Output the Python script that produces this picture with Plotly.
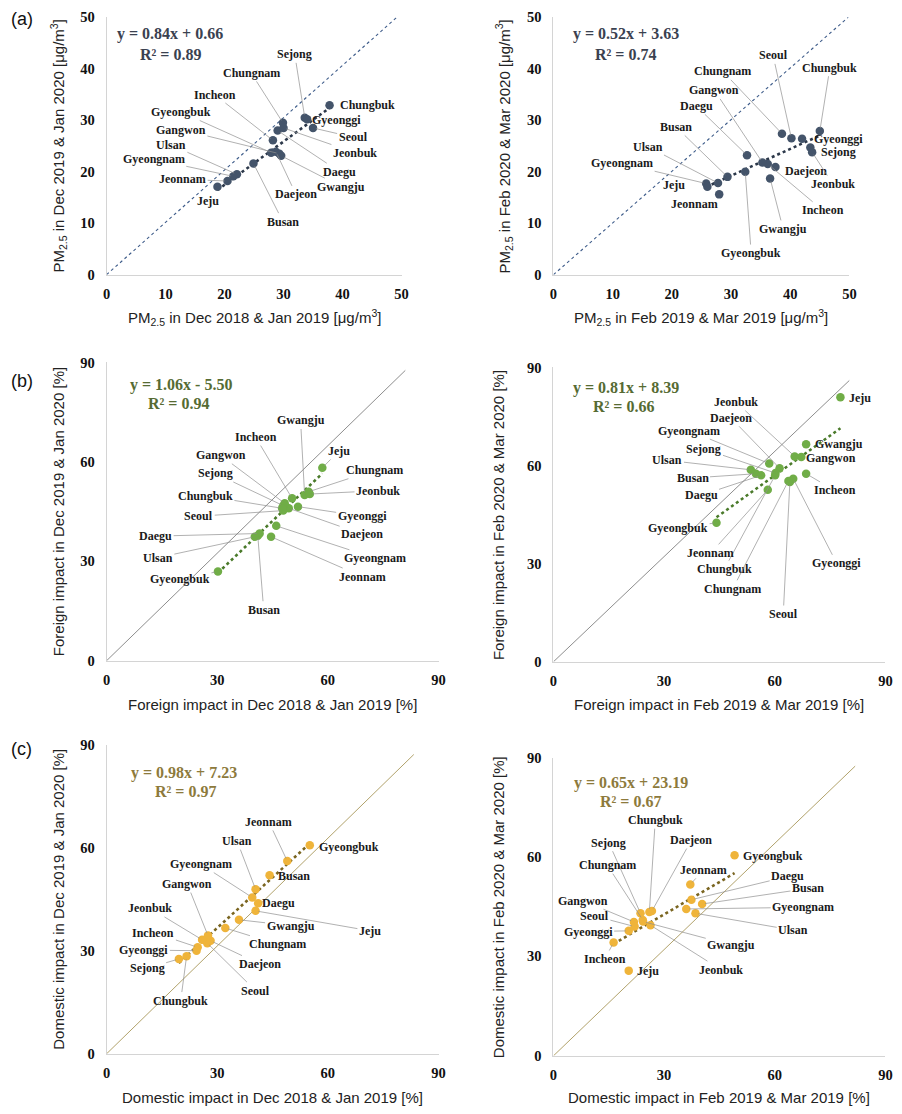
import plotly.graph_objects as go

W, H = 902, 1114

regions = ["Seoul", "Busan", "Daegu", "Incheon", "Gwangju", "Daejeon", "Ulsan", "Sejong",
           "Gyeonggi", "Gangwon", "Chungbuk", "Chungnam", "Jeonbuk", "Jeonnam",
           "Gyeongbuk", "Gyeongnam", "Jeju"]

# ---------------- data ----------------
# (a) PM2.5 [ug/m3]
pm_dj_prev = [35.0, 24.9, 29.0, 28.2, 29.6, 28.7, 22.1, 33.6, 34.0, 29.3, 37.8, 29.9, 30.0, 20.5, 27.9, 21.5, 18.8]
pm_dj_curr = [28.5, 21.6, 28.0, 26.1, 23.1, 23.9, 19.5, 30.5, 30.2, 23.5, 32.9, 29.5, 28.5, 18.2, 23.7, 19.1, 17.1]
pm_fm_prev = [40.2, 29.4, 32.7, 36.2, 36.6, 37.5, 27.8, 43.4, 42.0, 35.3, 45.0, 38.6, 43.7, 28.0, 32.4, 25.8, 26.0]
pm_fm_curr = [26.5, 19.0, 23.2, 21.5, 18.7, 20.9, 17.8, 24.7, 26.4, 21.8, 27.9, 27.4, 23.8, 15.6, 20.0, 17.7, 17.1]
# (b) Foreign impact [%]
fo_dj_prev = [47.9, 41.0, 41.5, 50.3, 53.7, 49.4, 40.2, 47.9, 51.9, 48.3, 47.6, 54.8, 55.1, 44.6, 30.2, 46.0, 58.5]
fo_dj_curr = [45.3, 37.7, 38.4, 49.0, 50.0, 46.0, 37.4, 46.8, 46.5, 47.5, 46.0, 51.0, 50.3, 37.4, 26.9, 40.7, 58.2]
fo_fm_prev = [64.1, 54.9, 56.3, 68.5, 68.5, 61.3, 53.5, 60.2, 65.0, 67.2, 60.1, 63.7, 65.4, 58.1, 44.2, 58.5, 77.8]
fo_fm_curr = [55.0, 57.5, 57.0, 57.5, 66.5, 59.2, 58.7, 57.7, 56.0, 62.6, 57.0, 55.3, 62.8, 52.6, 42.5, 60.6, 80.9]
# (c) Domestic impact [%]
do_dj_prev = [27.3, 44.2, 41.1, 24.7, 35.9, 28.2, 40.4, 19.6, 24.4, 27.5, 21.7, 32.2, 25.9, 49.0, 55.1, 39.5, 40.4]
do_dj_curr = [32.2, 52.0, 43.8, 31.0, 39.0, 32.9, 47.9, 27.6, 30.0, 34.4, 28.4, 36.6, 33.2, 56.1, 60.7, 45.5, 41.6]
do_fm_prev = [22.0, 40.3, 37.4, 16.3, 24.3, 26.7, 38.5, 23.6, 20.4, 21.8, 26.0, 24.2, 26.3, 37.1, 49.1, 36.0, 20.4]
do_fm_curr = [39.0, 45.8, 47.1, 34.2, 40.5, 43.7, 43.0, 43.0, 37.7, 40.4, 43.4, 41.0, 39.4, 51.7, 60.5, 44.3, 25.7]

# regression results printed on each panel
fit_slope = [0.84, 0.52, 1.06, 0.81, 0.98, 0.65]
fit_intercept = [0.66, 3.63, -5.50, 8.39, 7.23, 23.19]
fit_r2 = [0.89, 0.74, 0.94, 0.66, 0.97, 0.67]

ticks_pm = [0, 10, 20, 30, 40, 50]
ticks_pct = [0, 30, 60, 90]

# ---------------- label placement (layout) ----------------
lab_a1 = [(41.8, 26.7), (29.9, 10.3), (39.5, 20.0), (18.3, 35.0), (39.8, 17.1), (32.1, 15.6), (10.9, 25.2),
          (31.9, 42.8), (38.9, 30.0), (12.6, 28.2), (44.2, 32.9), (24.5, 39.2), (42.1, 23.7), (12.9, 18.5),
          (12.6, 31.6), (8.0, 22.4), (17.2, 14.4)]
lab_a2 = [(37.1, 42.6), (20.7, 28.7), (24.1, 32.8), (45.5, 12.5), (38.8, 8.9), (42.6, 20.2), (15.9, 24.9),
          (48.1, 23.9), (48.1, 26.3), (27.2, 35.8), (46.7, 40.2), (28.6, 39.5), (47.2, 17.6), (23.8, 13.7),
          (33.4, 4.2), (11.6, 21.6), (20.4, 17.4)]
lab_b1 = [(25.0, 43.6), (42.6, 15.4), (13.3, 37.6), (40.4, 67.5), (52.6, 72.5), (69.3, 38.2), (13.9, 31.1),
          (29.5, 56.5), (69.3, 43.6), (30.9, 62.0), (26.8, 49.8), (72.6, 57.5), (73.6, 51.3), (69.3, 25.4),
          (19.9, 24.7), (72.9, 30.9), (63.0, 63.3)]
lab_b2 = [(62.3, 14.6), (37.7, 56.2), (40.0, 50.9), (76.2, 52.4), (77.4, 66.5), (48.1, 74.6), (30.9, 61.6),
          (40.8, 65.1), (76.8, 30.1), (75.3, 62.4), (46.3, 28.3), (48.6, 22.3), (49.5, 79.4), (42.7, 33.3),
          (33.8, 40.9), (36.8, 70.7), (83.0, 80.7)]
lab_c1 = [(40.4, 18.4), (50.8, 51.8), (46.7, 43.8), (12.7, 35.3), (49.9, 37.3), (41.6, 26.1), (35.4, 61.9),
          (11.0, 24.9), (10.1, 30.2), (21.9, 49.4), (20.1, 15.5), (46.3, 31.9), (11.9, 42.3), (44.0, 67.5),
          (65.7, 60.3), (25.5, 55.2), (71.4, 35.8)]
lab_c2 = [(11.1, 42.2), (69.0, 50.5), (63.5, 54.1), (13.9, 29.2), (48.2, 33.4), (37.4, 65.1), (65.0, 37.9),
          (15.0, 64.3), (9.4, 37.5), (8.0, 46.8), (27.6, 71.1), (14.6, 57.5), (45.4, 26.0), (40.7, 56.1),
          (59.5, 60.3), (67.7, 44.8), (25.6, 25.5)]

panels = [
    dict(px=(106, 401), py=(16, 274), rng=50, ticks=ticks_pm, xs=pm_dj_prev, ys=pm_dj_curr, lab=lab_a1,
         noline={"Chungbuk", "Gyeonggi", "Jeju"}, diag=(49.2, 50.0), eq=(10.8, 46.8), r2=(10.8, 42.8),
         pt="#44546a", trend="#2c384a", eqc="#3a4150", dcol="#3e5c8a", ddash="dot", dw=1.1,
         xt="PM<sub>2.5</sub> in Dec 2018 & Jan 2019 [μg/m<sup>3</sup>]",
         yt="PM<sub>2.5</sub> in Dec 2019 & Jan 2020 [μg/m<sup>3</sup>]", xty=317, ytx=58),
    dict(px=(553, 849), py=(16, 274), rng=50, ticks=ticks_pm, xs=pm_fm_prev, ys=pm_fm_curr, lab=lab_a2,
         noline={"Gyeonggi", "Sejong", "Daejeon", "Jeju", "Jeonnam"}, diag=(49.8, 50.0), eq=(12.2, 46.8),
         r2=(12.2, 42.8), pt="#44546a", trend="#2c384a", eqc="#3a4150", dcol="#3e5c8a", ddash="dot", dw=1.1,
         xt="PM<sub>2.5</sub> in Feb 2019 & Mar 2019 [μg/m<sup>3</sup>]",
         yt="PM<sub>2.5</sub> in Feb 2020 & Mar 2020 [μg/m<sup>3</sup>]", xty=317, ytx=504),
    dict(px=(106, 438), py=(362, 661), rng=90, ticks=ticks_pct, xs=fo_dj_prev, ys=fo_dj_curr, lab=lab_b1,
         noline=set(), diag=(81.0, 87.6), eq=(20.1, 83.1), r2=(19.6, 77.6),
         pt="#70ad47", trend="#4a7a2a", eqc="#566b33", dcol="#808080", ddash="solid", dw=0.9,
         xt="Foreign impact in Dec 2018 & Jan 2019 [%]", yt="Foreign impact in Dec 2019 & Jan 2020 [%]",
         xty=705, ytx=58),
    dict(px=(553, 885), py=(367, 662), rng=90, ticks=ticks_pct, xs=fo_fm_prev, ys=fo_fm_curr, lab=lab_b2,
         noline={"Jeju", "Gwangju", "Gangwon"}, diag=(80.2, 86.0), eq=(19.6, 83.8), r2=(19.1, 78.1),
         pt="#70ad47", trend="#4a7a2a", eqc="#566b33", dcol="#808080", ddash="solid", dw=0.9,
         xt="Foreign impact in Feb 2019 & Mar 2019 [%]", yt="Foreign impact in Feb 2020 & Mar 2020 [%]",
         xty=705, ytx=498),
    dict(px=(106, 438), py=(745, 1055), rng=90, ticks=ticks_pct, xs=do_dj_prev, ys=do_dj_curr, lab=lab_c1,
         noline={"Busan", "Daegu", "Gyeongbuk"}, diag=(83.3, 87.1), eq=(20.9, 81.8), r2=(21.4, 76.3),
         pt="#efb43a", trend="#7a6520", eqc="#8d7a3c", dcol="#a8975a", ddash="solid", dw=0.9,
         xt="Domestic impact in Dec 2018 & Jan 2019 [%]", yt="Domestic impact in Dec 2019 & Jan 2020 [%]",
         xty=1099, ytx=58),
    dict(px=(553, 885), py=(758, 1057), rng=90, ticks=ticks_pct, xs=do_fm_prev, ys=do_fm_curr, lab=lab_c2,
         noline={"Gyeongbuk", "Jeju"}, diag=(81.8, 87.4), eq=(20.9, 82.2), r2=(20.9, 76.6),
         pt="#efb43a", trend="#7a6520", eqc="#8d7a3c", dcol="#a8975a", ddash="solid", dw=0.9,
         xt="Domestic impact in Feb 2019 & Mar 2019 [%]", yt="Domestic impact in Feb 2020 & Mar 2020 [%]",
         xty=1099, ytx=498),
]

# the page photo comes out very slightly shrunk about its centre; place things so they land on target pixels
S = 0.988
CX, CY = W / 2, H / 2
DX = 2.0


def fx(px):
    return (CX + (px + DX - CX) / S) / W


def fy(py):
    return 1 - (CY + (py - CY) / S) / H


serif = "Liberation Serif"
sans = "Liberation Sans"

fig = go.Figure()
annotations = []
layout_axes = {}

for i, p in enumerate(panels, start=1):
    xa = "x" if i == 1 else f"x{i}"
    ya = "y" if i == 1 else f"y{i}"
    xkey = "xaxis" if i == 1 else f"xaxis{i}"
    ykey = "yaxis" if i == 1 else f"yaxis{i}"
    x0, x1 = p["px"]
    y0, y1 = p["py"]
    common = dict(range=[0, p["rng"]], tickvals=p["ticks"], showgrid=False, zeroline=False,
                  showline=True, linecolor="#d4d4d4", linewidth=1, ticks="",
                  tickfont=dict(family=serif, size=14.5, color="#111111", weight="bold"),
                  fixedrange=True)
    layout_axes[xkey] = dict(common, domain=[fx(x0), fx(x1)], anchor=ya, ticklabelstandoff=6)
    layout_axes[ykey] = dict(common, domain=[fy(y1), fy(y0)], anchor=xa, ticklabelstandoff=8)

    # 1:1 reference line
    fig.add_trace(go.Scatter(x=[0, p["diag"][0]], y=[0, p["diag"][1]], mode="lines",
                             line=dict(color=p["dcol"], width=p["dw"], dash=p["ddash"]),
                             xaxis=xa, yaxis=ya, showlegend=False, hoverinfo="skip"))
    # linear trend line
    k = i - 1
    xmin, xmax = min(p["xs"]), max(p["xs"])
    fig.add_trace(go.Scatter(x=[xmin, xmax],
                             y=[fit_slope[k] * xmin + fit_intercept[k], fit_slope[k] * xmax + fit_intercept[k]],
                             mode="lines", line=dict(color=p["trend"], width=2.6, dash="dot"),
                             xaxis=xa, yaxis=ya, showlegend=False, hoverinfo="skip"))
    # points
    fig.add_trace(go.Scatter(x=p["xs"], y=p["ys"], mode="markers", text=regions,
                             marker=dict(color=p["pt"], size=8.5, line=dict(width=0)),
                             xaxis=xa, yaxis=ya, showlegend=False))

    # region labels
    for name, px_, py_, (lx, ly) in zip(regions, p["xs"], p["ys"], p["lab"]):
        f = dict(family=serif, size=12, color="#1a1a1a", weight="bold")
        if name in p["noline"]:
            annotations.append(dict(x=lx, y=ly, xref=xa, yref=ya, text=name, showarrow=False, font=f))
        else:
            annotations.append(dict(x=px_, y=py_, xref=xa, yref=ya, ax=lx, ay=ly, axref=xa, ayref=ya,
                                    text=name, showarrow=True, arrowhead=0, arrowwidth=0.7,
                                    arrowcolor="#8f8f8f", standoff=3, font=f))

    # equation text
    b = fit_intercept[k]
    sign = "+" if b >= 0 else "-"
    eq_txt = f"y = {fit_slope[k]:.2f}x {sign} {abs(b):.2f}"
    ef = dict(family=serif, size=16, color=p["eqc"], weight="bold")
    annotations.append(dict(x=p["eq"][0], y=p["eq"][1], xref=xa, yref=ya, text=eq_txt, showarrow=False, font=ef))
    annotations.append(dict(x=p["r2"][0], y=p["r2"][1], xref=xa, yref=ya, text=f"R² = {fit_r2[k]:.2f}",
                            showarrow=False, font=ef))

    # axis titles
    tf = dict(family=sans, size=15, color="#222222")
    annotations.append(dict(x=fx((x0 + x1) / 2), y=fy(p["xty"]), xref="paper", yref="paper",
                            text=p["xt"], showarrow=False, font=tf, xanchor="center", yanchor="middle"))
    annotations.append(dict(x=fx(p["ytx"]), y=fy((y0 + y1) / 2), xref="paper", yref="paper",
                            text=p["yt"], showarrow=False, font=tf, textangle=-90,
                            xanchor="center", yanchor="middle"))

# panel letters
for letter, ypix in [("(a)", 18), ("(b)", 381), ("(c)", 749)]:
    annotations.append(dict(x=fx(21), y=fy(ypix), xref="paper", yref="paper", text=letter,
                            showarrow=False, font=dict(family=sans, size=18, color="#111111"),
                            xanchor="center", yanchor="middle"))

fig.update_layout(width=W, height=H, margin=dict(l=0, r=0, t=0, b=0),
                  paper_bgcolor="white", plot_bgcolor="white",
                  annotations=annotations, **layout_axes)

fig.write_html("out.html", config={"displayModeBar": False},
               post_script="document.body.style.margin='0px';document.body.style.overflow='hidden';")
